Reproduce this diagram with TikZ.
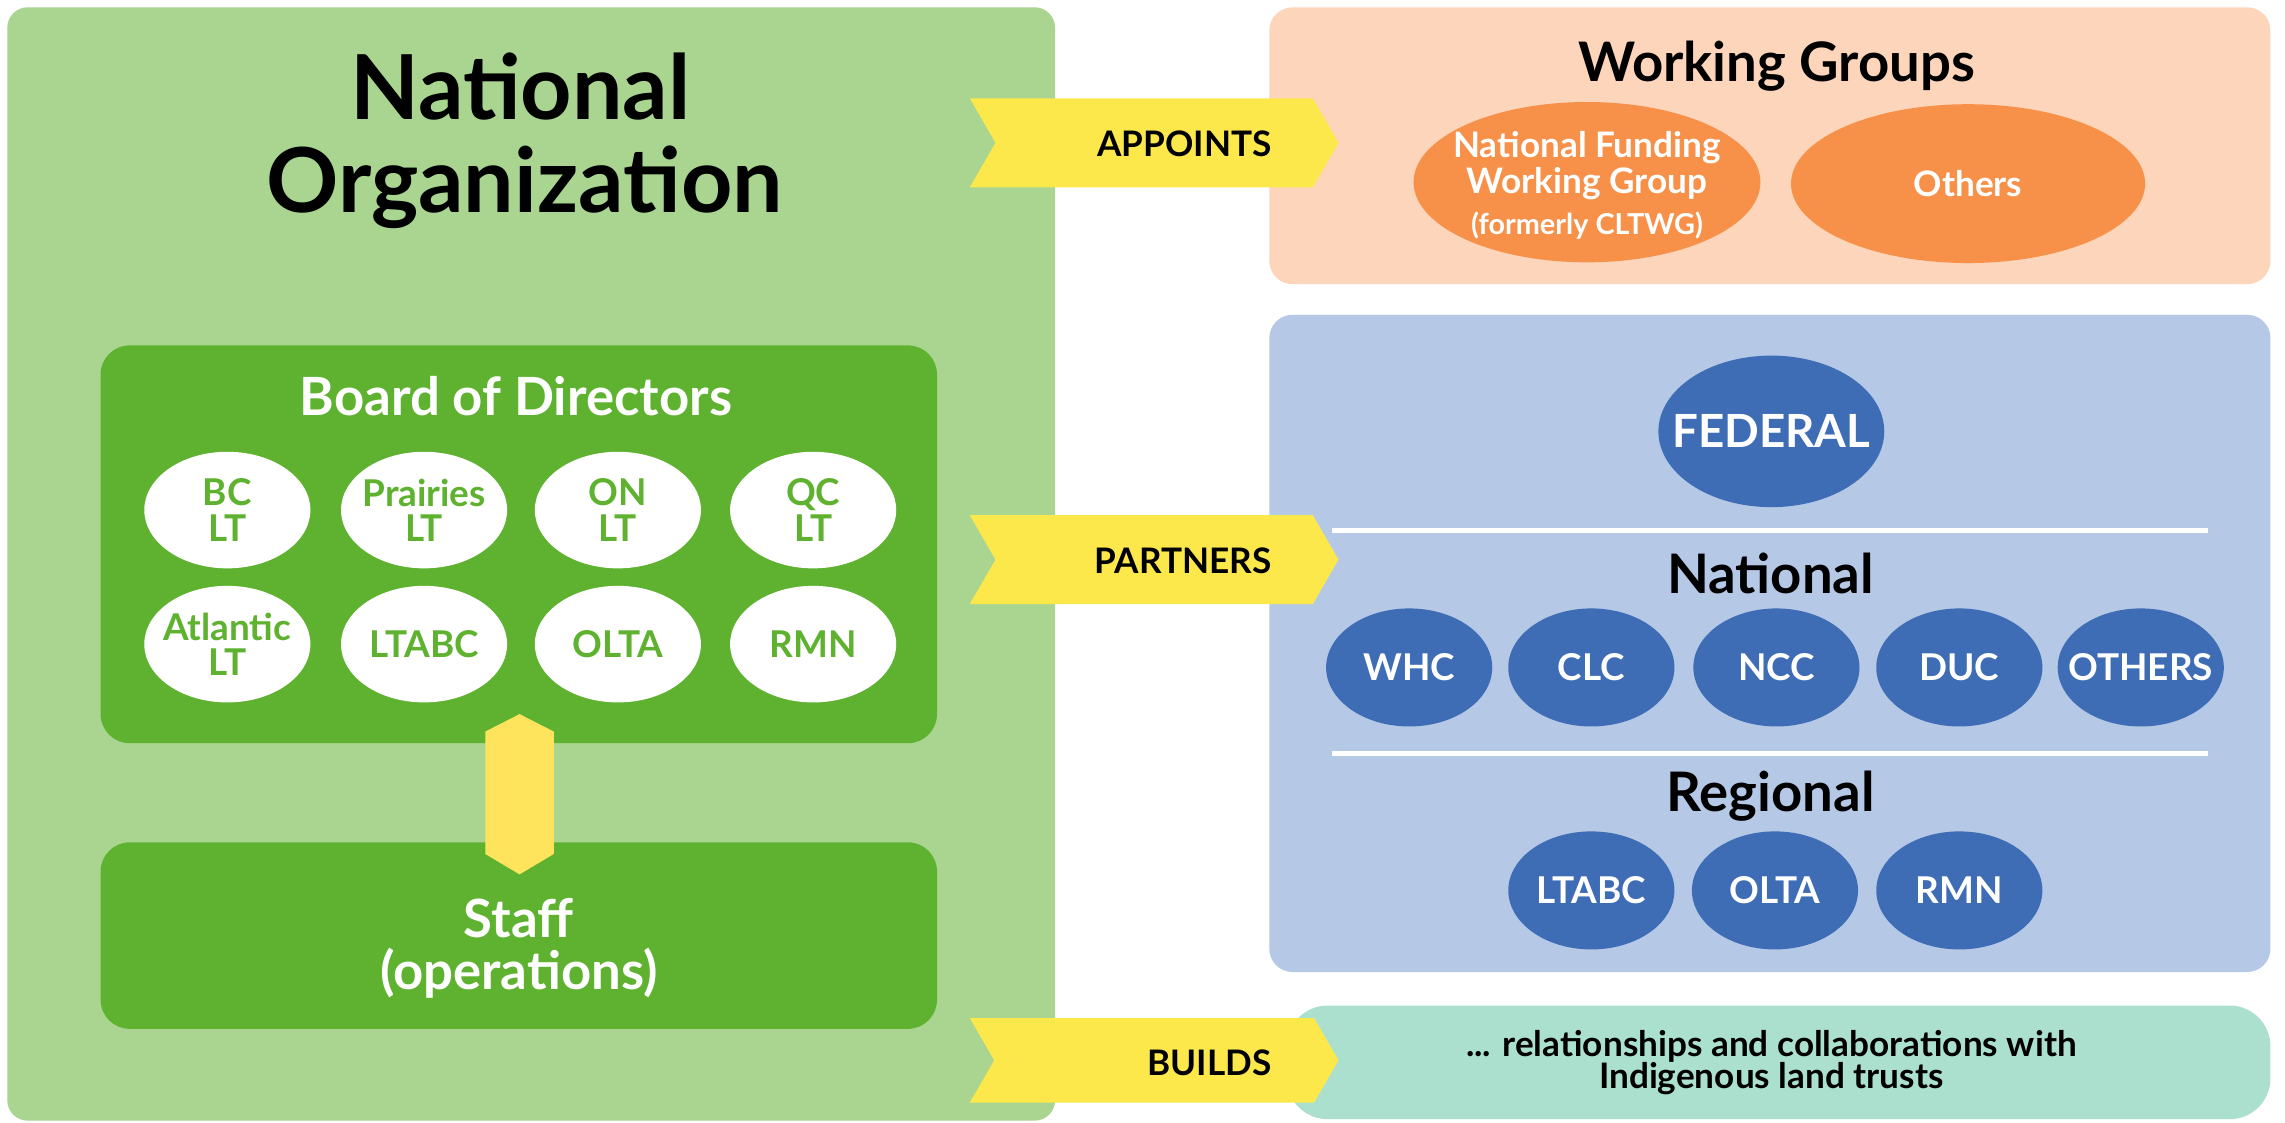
\documentclass[tikz,border=0pt]{standalone}
\usepackage{fontspec}
\setmainfont{Lato}
\usetikzlibrary{shapes.geometric,shapes.symbols}
\definecolor{lgreen}{HTML}{A9D590}
\definecolor{dgreen}{HTML}{5EB22F}
\definecolor{ryellow}{HTML}{FDE84B}
\definecolor{hyellow}{HTML}{FEE45C}
\definecolor{lorange}{HTML}{FCD5BA}
\definecolor{dorange}{HTML}{F79149}
\definecolor{lblue}{HTML}{B5C8E6}
\definecolor{dblue}{HTML}{3E6DB5}
\definecolor{lteal}{HTML}{ABE0CF}
\def\U{0.014573cm}
\begin{document}
\begin{tikzpicture}[x=0.014573cm,y=-0.014573cm,
  panel/.style={inner sep=0pt, draw=none},
  wellip/.style={ellipse, fill=white, minimum width=114*\U, minimum height=80*\U, inner ysep=0pt, inner xsep=-8pt,
     text=dgreen, font=\bfseries\fontsize{10.5}{10}\selectfont, align=center},
  bellip/.style={ellipse, fill=dblue, minimum width=114*\U, minimum height=81*\U, inner ysep=0pt, inner xsep=-8pt,
     text=white, font=\bfseries\fontsize{10.5}{10}\selectfont, align=center},
  oellip/.style={ellipse, fill=dorange, inner sep=0pt, text=white,
     font=\bfseries\fontsize{10}{8.6}\selectfont, align=center},
  ribbon/.style={signal, signal from=west, signal to=east, signal pointer angle=120,
     fill=ryellow, minimum width=253*\U, minimum height=61*\U, inner sep=0pt},
  rtext/.style={anchor=east, font=\bfseries\fontsize{10}{12}\selectfont, text=black, inner sep=0pt},
  head/.style={anchor=base, font=\bfseries\fontsize{15.5}{18}\selectfont, inner sep=0pt},
  whead/.style={anchor=base, font=\bfseries\fontsize{15}{18}\selectfont, inner sep=0pt, text=white},
  sepline/.style={draw=white, line width=3*\U}
]
\useasboundingbox (0,0) rectangle (1568,770);
\fill[white] (0,0) rectangle (1568,770);

% panels
\node[panel, fill=lgreen, rounded corners=14*\U, minimum width=719*\U, minimum height=764*\U] (left) at (364.5,387) {};
\node[panel, fill=lorange, rounded corners=16*\U, minimum width=687*\U, minimum height=190*\U] (orange) at (1214.5,100) {};
\node[panel, fill=lblue, rounded corners=16*\U, minimum width=687*\U, minimum height=451*\U] (blue) at (1214.5,441.5) {};
\node[panel, fill=lteal, rounded corners=28*\U, minimum width=675*\U, minimum height=78*\U] (teal) at (1220.5,729) {};

% title
\node[anchor=base, font=\bfseries\fontsize{25.5}{28}\selectfont, inner sep=0pt] (t1) at (357,82) {National};
\node[anchor=base, font=\bfseries\fontsize{25.5}{28}\selectfont, inner sep=0pt] (t2) at (360,146) {Organization};

% board
\node[panel, fill=dgreen, rounded corners=20*\U, minimum width=574*\U, minimum height=273*\U] (board) at (356,373.5) {};
\node[whead] (boardT) at (354,285) {Board of Directors};
\node[wellip] (bc) at (156,350) {BC\\LT};
\node[wellip] (pr) at (291,350) {Prairies\\LT};
\node[wellip] (on) at (424,350) {ON\\LT};
\node[wellip] (qc) at (558,350) {QC\\LT};
\node[wellip] (at) at (156,442) {Atlantic\\LT};
\node[wellip] (ltabc) at (291,442) {LTABC};
\node[wellip] (olta) at (424,442) {OLTA};
\node[wellip] (rmn) at (558,442) {RMN};

% staff
\node[panel, fill=dgreen, rounded corners=20*\U, minimum width=574*\U, minimum height=128*\U] (staff) at (356,642) {};
\node[whead] (staffT1) at (356,643) {Staff};
\node[whead] (staffT2) at (356,679) {(operations)};

% hexagon connector
\fill[hyellow] (356.5,490) -- (380,502) -- (380,586) -- (356.5,600) -- (333,586) -- (333,502) -- cycle;

% ribbons
\node[ribbon] (rA) at (792,98) {};
\node[rtext] (rAT) at (873,99) {APPOINTS};
\node[ribbon] (rP) at (792,384) {};
\node[rtext] (rPT) at (873,385) {PARTNERS};
\node[ribbon, minimum height=58*\U] (rB) at (792,727.6) {};
\node[rtext] (rBT) at (873,729) {BUILDS};

% working groups
\node[head] (wg) at (1219,56) {Working Groups};
\node[oellip, minimum width=238*\U, minimum height=110*\U] (nfwg) at (1089,125) {};
\node[text=white, font=\bfseries\fontsize{10}{8.6}\selectfont, align=center, inner sep=0pt] (nfwgT) at (1089,127) {National Funding\\Working Group\\[3pt]{\fontsize{8.2}{9}\selectfont (formerly CLTWG)}};
\node[oellip, minimum width=243*\U, minimum height=109*\U] (oth) at (1350.5,126) {Others};

% partners
\node[bellip, minimum width=155*\U, minimum height=104*\U, font=\bfseries\fontsize{13}{14}\selectfont] (fed) at (1215.5,296) {FEDERAL};
\coordinate (l1a) at (914,364); \coordinate (l1b) at (1515,364);
\draw[sepline] (l1a) -- (l1b);
\node[head] (nat) at (1215,407) {National};
\node[bellip] (whc) at (967,458) {WHC};
\node[bellip] (clc) at (1092,458) {CLC};
\node[bellip] (ncc) at (1219,458) {NCC};
\node[bellip] (duc) at (1344.5,458) {DUC};
\node[bellip] (others) at (1469,458) {OTHERS};
\coordinate (l2a) at (914,517); \coordinate (l2b) at (1515,517);
\draw[sepline] (l2a) -- (l2b);
\node[head] (reg) at (1215,557) {Regional};
\node[bellip] (rltabc) at (1092,611) {LTABC};
\node[bellip] (rolta) at (1218,611) {OLTA};
\node[bellip] (rrmn) at (1344.5,611) {RMN};

% builds
\node[anchor=base, font=\bfseries\fontsize{10}{12}\selectfont, inner sep=0pt] (bt1) at (1215.5,725) {... relationships and collaborations with};
\node[anchor=base, font=\bfseries\fontsize{10}{12}\selectfont, inner sep=0pt] (bt2) at (1215.5,747) {Indigenous land trusts};
\end{tikzpicture}
\end{document}
